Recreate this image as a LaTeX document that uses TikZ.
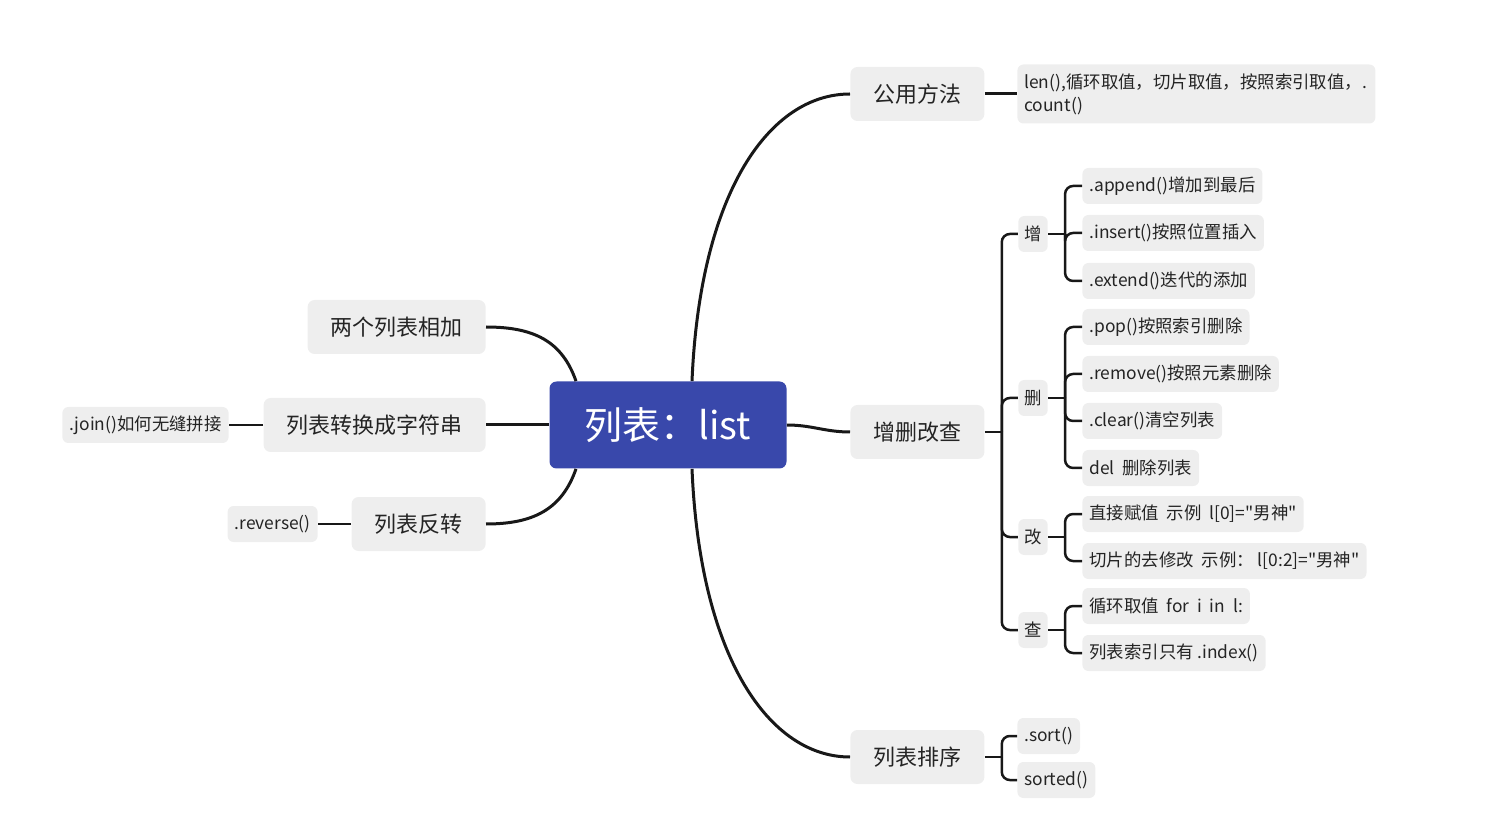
\documentclass[tikz,border=0pt]{standalone}
\usepackage{fontspec}
\newfontfamily\mapfont{Noto Sans CJK SC}
\definecolor{rootblue}{RGB}{57,72,171}
\definecolor{boxgray}{RGB}{238,238,238}
\definecolor{linegray}{RGB}{24,24,24}
\definecolor{textgray}{RGB}{36,36,36}
\begin{document}
\begin{tikzpicture}
[x=0.5pt,y=-0.5pt,
  rootdecorate/.style={shape=rectangle,fill=rootblue,text=white,rounded corners=3.5pt,%
    minimum width=118.5pt,minimum height=43.5pt,font=\mapfont\fontsize{19}{23}\selectfont},%
  topicdecorate/.style={shape=rectangle,fill=boxgray,text=textgray,rounded corners=3.5pt,%
    inner xsep=11.5pt,minimum height=27pt,font=\mapfont\fontsize{11}{13}\selectfont},%
  leafdecorate/.style={shape=rectangle,fill=boxgray,text=textgray,rounded corners=3pt,%
    inner xsep=3.5pt,minimum height=18pt,font=\mapfont\fontsize{8.7}{11.5}\selectfont},%
  linedecorate/.style={-,line width=1.5pt,color=linegray},%
  stubdecorate/.style={-,line width=1.25pt,color=linegray},%
  bracedecorate/.style={-,line width=1.25pt,color=linegray,rounded corners=4pt,%
    to path={|- (\tikztotarget)}}]
\useasboundingbox (0,0) rectangle (1499,823);
%%% central topic
\node (root) at (668,425) [rootdecorate] {列表：list};
%
%%% right branches
% topics
\node (pub) at (850,94) [topicdecorate,anchor=west] {公用方法};
\node (crud) at (850,432) [topicdecorate,anchor=west] {增删改查};
\node (order) at (850,757) [topicdecorate,anchor=west] {列表排序};
% sub topics of 增删改查
\node (add) at (1033,234) [leafdecorate,inner xsep=3pt] {增};
\node (del) at (1033,398) [leafdecorate,inner xsep=3pt] {删};
\node (mod) at (1033,537) [leafdecorate,inner xsep=3pt] {改};
\node (find) at (1033,630) [leafdecorate,inner xsep=3pt] {查};
% leaves
\node (pubtxt) at (1017,94) [leafdecorate,anchor=west,align=left,text width=172pt,%
  minimum height=29.5pt] {len(),循环取值，切片取值，按照索引取值，.\\count()};
\node (append) at (1082,186) [leafdecorate,anchor=west] {.append()增加到最后};
\node (insert) at (1082,233) [leafdecorate,anchor=west] {.insert()按照位置插入};
\node (extend) at (1082,281) [leafdecorate,anchor=west] {.extend()迭代的添加};
\node (pop) at (1082,327) [leafdecorate,anchor=west] {.pop()按照索引删除};
\node (remove) at (1082,374) [leafdecorate,anchor=west] {.remove()按照元素删除};
\node (clear) at (1082,421) [leafdecorate,anchor=west] {.clear()清空列表};
\node (delall) at (1082,468) [leafdecorate,anchor=west] {del\ \ 删除列表};
\node (assign) at (1082,514) [leafdecorate,anchor=west] {直接赋值\ \ 示例\ \ l[0]="男神"};
\node (slice) at (1082,561) [leafdecorate,anchor=west] {切片的去修改\ \ 示例：\ l[0:2]="男神"};
\node (loop) at (1082,606) [leafdecorate,anchor=west] {循环取值\ \ for\ \ i\ \ in\ \ l:};
\node (index) at (1082,653) [leafdecorate,anchor=west] {列表索引只有\ .index()};
\node (sortm) at (1017,736) [leafdecorate,anchor=west] {.sort()};
\node (sorted) at (1017,780) [leafdecorate,anchor=west] {sorted()};
%
%%% left branches
% topics
\node (plus) at (486,327) [topicdecorate,anchor=east] {两个列表相加};
\node (tostr) at (486,425) [topicdecorate,anchor=east] {列表转换成字符串};
\node (rev) at (486,524) [topicdecorate,anchor=east] {列表反转};
% leaves
\node (join) at (229,425) [leafdecorate,anchor=east] {.join()如何无缝拼接};
\node (reverse) at (318,524) [leafdecorate,anchor=east] {.reverse()};
%
%%% connectors from the central topic
\draw[linedecorate] ([xshift=12pt]root.north) .. controls +(8,-190) and +(-80,0) .. (pub.west);
\draw[linedecorate] ([xshift=12pt]root.south) .. controls +(8,190) and +(-80,0) .. (order.west);
\draw[linedecorate] ([xshift=-46pt]root.north) .. controls +(-14,-40) and +(48,0) .. (plus.east);
\draw[linedecorate] ([xshift=-46pt]root.south) .. controls +(-14,40) and +(48,0) .. (rev.east);
\path
(root.east) edge[linedecorate,out=0,in=180] (crud.west)
(root.west) edge[linedecorate] (tostr.east)
(pub.east) edge[linedecorate] (pubtxt.west)
(tostr.west) edge[stubdecorate] (join.east)
(rev.west) edge[stubdecorate] (reverse.east);
%
%%% brackets
\path
(crud.east) edge[stubdecorate] ([xshift=8.5pt]crud.east)
([xshift=8.5pt]crud.east) edge[bracedecorate] (add.west)
([xshift=8.5pt]crud.east) edge[bracedecorate] (del.west)
([xshift=8.5pt]crud.east) edge[bracedecorate] (mod.west)
([xshift=8.5pt]crud.east) edge[bracedecorate] (find.west);
\path
(add.east) edge[stubdecorate] ([xshift=8.5pt]add.east)
([xshift=8.5pt]add.east) edge[bracedecorate] (append.west)
([xshift=8.5pt]add.east) edge[bracedecorate] (insert.west)
([xshift=8.5pt]add.east) edge[bracedecorate] (extend.west);
\path
(del.east) edge[stubdecorate] ([xshift=8.5pt]del.east)
([xshift=8.5pt]del.east) edge[bracedecorate] (pop.west)
([xshift=8.5pt]del.east) edge[bracedecorate] (remove.west)
([xshift=8.5pt]del.east) edge[bracedecorate] (clear.west)
([xshift=8.5pt]del.east) edge[bracedecorate] (delall.west);
\path
(mod.east) edge[stubdecorate] ([xshift=8.5pt]mod.east)
([xshift=8.5pt]mod.east) edge[bracedecorate] (assign.west)
([xshift=8.5pt]mod.east) edge[bracedecorate] (slice.west);
\path
(find.east) edge[stubdecorate] ([xshift=8.5pt]find.east)
([xshift=8.5pt]find.east) edge[bracedecorate] (loop.west)
([xshift=8.5pt]find.east) edge[bracedecorate] (index.west);
\path
(order.east) edge[stubdecorate] ([xshift=8.5pt]order.east)
([xshift=8.5pt]order.east) edge[bracedecorate] (sortm.west)
([xshift=8.5pt]order.east) edge[bracedecorate] (sorted.west);
\end{tikzpicture}
\end{document}
